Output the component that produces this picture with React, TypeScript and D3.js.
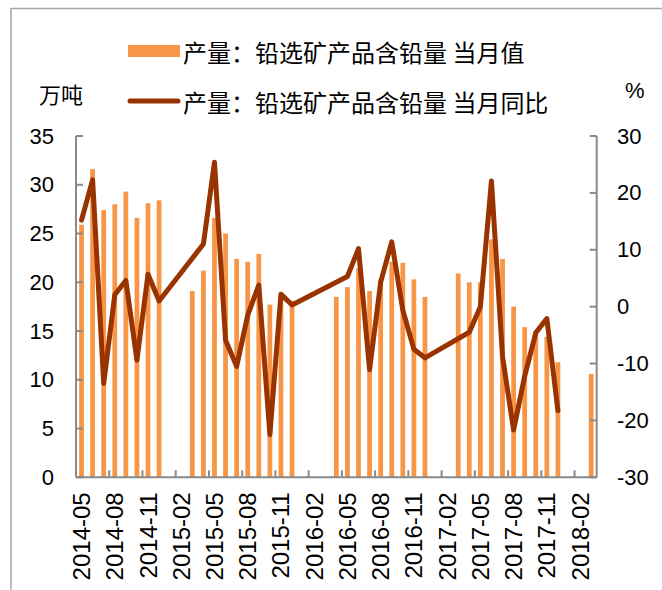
import React from "react";
import * as d3 from "d3";

// monthly categories, 2014-05 .. 2018-03
const months = [
  "2014-05", "2014-06", "2014-07", "2014-08", "2014-09", "2014-10", "2014-11", "2014-12",
  "2015-01", "2015-02", "2015-03", "2015-04", "2015-05", "2015-06", "2015-07", "2015-08",
  "2015-09", "2015-10", "2015-11", "2015-12",
  "2016-01", "2016-02", "2016-03", "2016-04", "2016-05", "2016-06", "2016-07", "2016-08",
  "2016-09", "2016-10", "2016-11", "2016-12",
  "2017-01", "2017-02", "2017-03", "2017-04", "2017-05", "2017-06", "2017-07", "2017-08",
  "2017-09", "2017-10", "2017-11", "2017-12",
  "2018-01", "2018-02", "2018-03",
];

// 产量：铅选矿产品含铅量 当月值 (万吨)
const output = [
  25.9, 31.6, 27.4, 28.0, 29.3, 26.6, 28.1, 28.4,
  null, null, 19.1, 21.2, 26.6, 25.0, 22.4, 22.1,
  22.9, 17.7, 18.6, 18.1,
  null, null, null, 18.5, 19.5, 21.4, 19.1, 20.3,
  22.1, 22.0, 20.3, 18.5,
  null, null, 20.9, 20.0, 20.0, 24.4, 22.4, 17.5,
  15.4, 15.0, 14.4, 11.8,
  null, null, 10.6,
];

// 产量：铅选矿产品含铅量 当月同比 (%)
const yoy = [
  15.2, 22.3, -13.5, 2.1, 4.6, -9.4, 5.7, 1.0,
  null, null, null, 11.0, 25.4, -5.9, -10.5, -1.5,
  3.8, -22.5, 2.2, 0.3,
  null, null, null, null, 5.3, 10.2, -11.1, 4.3,
  11.4, -0.6, -7.5, -9.0,
  null, null, null, -4.5, 0.0, 22.1, -8.8, -21.7,
  -12.2, -4.6, -2.1, -18.3,
  null, null, null,
];

const leftTicks = [0, 5, 10, 15, 20, 25, 30, 35];
const rightTicks = [-30, -20, -10, 0, 10, 20, 30];
const xTickLabels = months.filter((m, i) => i % 3 === 0);

const barName = "产量：铅选矿产品含铅量 当月值";
const lineName = "产量：铅选矿产品含铅量 当月同比";

const W = 662;
const H = 590;

export default function App() {
  const left = 76;
  const right = 596.7;
  const top = 136;
  const bottom = 477.3;

  const x = d3.scaleBand().domain(months).range([left, right]);
  const yL = d3.scaleLinear().domain([0, 35]).range([bottom, top]);
  const yR = d3.scaleLinear().domain([-30, 30]).range([bottom, top]);
  const bw = x.bandwidth() * 0.43;
  const cx = (m) => x(m) + x.bandwidth() / 2;

  const pts = months
    .map((m, i) => [m, yoy[i]])
    .filter((d) => d[1] != null);
  const line = d3.line()
    .x((d) => cx(d[0]))
    .y((d) => yR(d[1]));

  const axisColor = "#898989";
  const numFont = "'Liberation Sans', Arial, sans-serif";
  const cjkFont = "'Noto Sans CJK SC', sans-serif";

  // tick positions on category boundaries, every 3 months
  const boundaryTicks = d3.range(3, months.length, 3).map((k) => left + k * x.step());

  return (
    <div style={{position: "fixed", left: 0, top: 0}}>
      <svg width={W} height={H} style={{display: "block", background: "#fff"}}>
        <rect x={11} y={8.5} width={W + 20} height={H + 20} fill="none" stroke="#a6a6a6" strokeWidth={1.5}/>

        {/* bars */}
        {months.map((m, i) => output[i] == null ? null : (
          <rect key={m} x={cx(m) - bw / 2} y={yL(output[i])} width={bw}
                height={bottom - yL(output[i])} fill="#F79646"/>
        ))}

        {/* axes */}
        <g stroke={axisColor} strokeWidth={2} fill="none">
          <line x1={left} x2={left} y1={top} y2={bottom}/>
          <line x1={right} x2={right} y1={top} y2={bottom}/>
          <line x1={left} x2={right} y1={bottom} y2={bottom}/>
          {leftTicks.map((t) => (
            <line key={"l" + t} x1={left} x2={left + 7} y1={yL(t)} y2={yL(t)}/>
          ))}
          {rightTicks.map((t) => (
            <line key={"r" + t} x1={right - 7} x2={right} y1={yR(t)} y2={yR(t)}/>
          ))}
          {boundaryTicks.map((px, i) => (
            <line key={"b" + i} x1={px} x2={px} y1={bottom} y2={bottom - 7}/>
          ))}
        </g>

        {/* line */}
        <path d={line(pts)} fill="none" stroke="#993300" strokeWidth={5}
              strokeLinejoin="round" strokeLinecap="round"/>

        {/* tick labels */}
        <g fontFamily={numFont} fontSize={22} fill="#000">
          {leftTicks.map((t) => (
            <text key={"lt" + t} x={54} y={yL(t)} textAnchor="end" dominantBaseline="central">{t}</text>
          ))}
          {rightTicks.map((t) => (
            <text key={"rt" + t} x={617} y={yR(t)} textAnchor="start" dominantBaseline="central">{t}</text>
          ))}
        </g>
        <g fontFamily={numFont} fontSize={24} fill="#000">
          {xTickLabels.map((m) => (
            <text key={m} transform={`translate(${cx(m)},${bottom + 15}) rotate(-90)`}
                  textAnchor="end" dominantBaseline="central">{m}</text>
          ))}
        </g>

        {/* axis titles */}
        <text x={39} y={93} fontFamily={cjkFont} fontSize={22} dominantBaseline="central">万吨</text>
        <text x={625} y={90} fontFamily={numFont} fontSize={22} dominantBaseline="central">%</text>

        {/* legend */}
        <rect x={128} y={45} width={52} height={12} fill="#F79646"/>
        <text x={183} y={51} fontFamily={cjkFont} fontSize={24} dominantBaseline="central">{barName}</text>
        <line x1={130} x2={178} y1={101} y2={101} stroke="#993300" strokeWidth={5} strokeLinecap="round"/>
        <text x={183} y={101} fontFamily={cjkFont} fontSize={24} dominantBaseline="central">{lineName}</text>
      </svg>
    </div>
  );
}
